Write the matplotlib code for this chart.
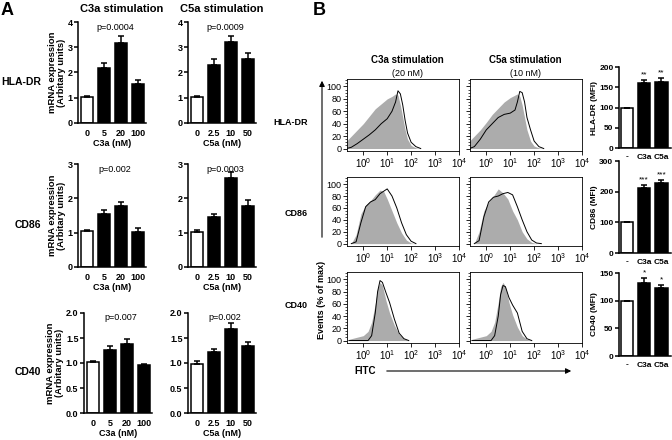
import numpy as np
import matplotlib
matplotlib.use('Agg')
import matplotlib.pyplot as plt
from matplotlib.patches import FancyArrowPatch
from matplotlib.ticker import LogLocator, FormatStrFormatter, MultipleLocator, NullFormatter

plt.rcParams['font.family'] = ['Liberation Sans', 'DejaVu Sans']

# ---- panel A data (mRNA, mean + SEM) ----
c3a_doses = ['0', '5', '20', '100']
c5a_doses = ['0', '2.5', '10', '50']
genes = ['HLA-DR', 'CD86', 'CD40']

c3a_mean = [[1.02, 2.17, 3.16, 1.54],
            [1.04, 1.54, 1.78, 1.02],
            [1.02, 1.26, 1.39, 0.96]]
c3a_err = [[0.03, 0.19, 0.27, 0.15],
           [0.04, 0.11, 0.12, 0.11],
           [0.02, 0.08, 0.10, 0.03]]
c5a_mean = [[1.01, 2.28, 3.19, 2.55],
            [1.03, 1.46, 2.58, 1.79],
            [0.99, 1.22, 1.69, 1.35]]
c5a_err = [[0.05, 0.26, 0.24, 0.23],
           [0.04, 0.07, 0.18, 0.15],
           [0.05, 0.07, 0.11, 0.08]]
c3a_p = ['p=0.0004', 'p=0.002', 'p=0.007']
c5a_p = ['p=0.0009', 'p=0.0003', 'p=0.002']
ymax_a = [4, 3, 2.0]
ystep_a = [1, 1, 0.5]

# ---- panel B histograms (log10 FITC, % of max) ----
hla_c3a_x = [-0.7, -0.5, -0.25, 0.0, 0.25, 0.5, 0.75, 1.0, 1.2, 1.35, 1.45, 1.55, 1.65, 1.75, 1.85, 2.0, 2.2, 2.4]
hla_c3a_gray = [12, 20, 30, 40, 52, 64, 72, 80, 84, 88, 86, 70, 50, 30, 15, 5, 1, 0]
hla_c3a_line = [0, 2, 8, 15, 22, 30, 40, 48, 60, 75, 93, 88, 70, 45, 25, 10, 3, 0]

hla_c5a_x = [-0.7, -0.5, -0.25, 0.0, 0.25, 0.5, 0.75, 1.0, 1.2, 1.3, 1.4, 1.5, 1.6, 1.7, 1.85, 2.0, 2.2, 2.4]
hla_c5a_gray = [12, 20, 30, 42, 55, 65, 75, 82, 86, 88, 84, 70, 50, 30, 12, 4, 1, 0]
hla_c5a_line = [0, 3, 15, 30, 40, 50, 55, 57, 62, 75, 92, 90, 75, 50, 30, 12, 3, 0]

cd86_c3a_x = [-0.5, -0.3, -0.1, 0.1, 0.3, 0.5, 0.7, 0.85, 1.0, 1.2, 1.4, 1.6, 1.8, 2.0, 2.2]
cd86_c3a_gray = [0, 15, 50, 65, 72, 82, 90, 88, 75, 55, 35, 18, 6, 1, 0]
cd86_c3a_line = [0, 3, 35, 62, 70, 74, 84, 88, 92, 80, 60, 35, 15, 4, 0]

cd86_c5a_x = [-0.5, -0.3, -0.1, 0.1, 0.3, 0.5, 0.7, 0.9, 1.1, 1.3, 1.5, 1.7, 1.9, 2.1, 2.3]
cd86_c5a_gray = [0, 20, 55, 70, 80, 92, 85, 75, 55, 40, 20, 8, 2, 0, 0]
cd86_c5a_line = [0, 5, 45, 70, 78, 80, 84, 86, 82, 62, 40, 20, 6, 1, 0]

cd40_c3a_x = [-0.6, -0.3, 0.0, 0.2, 0.35, 0.5, 0.6, 0.7, 0.8, 0.95, 1.1, 1.3, 1.5, 1.7, 1.9]
cd40_c3a_gray = [2, 5, 8, 15, 30, 60, 85, 95, 90, 65, 45, 25, 10, 3, 0]
cd40_c3a_line = [0, 0, 0, 0, 8, 45, 80, 98, 95, 78, 62, 35, 12, 3, 0]

cd40_c5a_x = [-0.6, -0.3, 0.0, 0.2, 0.35, 0.5, 0.6, 0.7, 0.8, 0.95, 1.1, 1.3, 1.5, 1.7, 1.9]
cd40_c5a_gray = [2, 5, 8, 15, 30, 62, 88, 95, 88, 62, 42, 22, 8, 2, 0]
cd40_c5a_line = [0, 0, 0, 0, 8, 40, 75, 90, 88, 70, 58, 45, 15, 3, 0]

hists = [[(hla_c3a_x, hla_c3a_gray, hla_c3a_line), (hla_c5a_x, hla_c5a_gray, hla_c5a_line)],
         [(cd86_c3a_x, cd86_c3a_gray, cd86_c3a_line), (cd86_c5a_x, cd86_c5a_gray, cd86_c5a_line)],
         [(cd40_c3a_x, cd40_c3a_gray, cd40_c3a_line), (cd40_c5a_x, cd40_c5a_gray, cd40_c5a_line)]]

# ---- panel B MFI bars ----
mfi_groups = ['-', 'C3a', 'C5a']
mfi_mean = [[100, 161, 164], [100, 213, 228], [100, 132, 122]]
mfi_err = [[0, 8, 8], [0, 9, 9], [0, 9, 7]]
mfi_stars = [['', '**', '**'], ['', '***', '***'], ['', '*', '*']]
mfi_ymax = [200, 300, 150]
mfi_step = [50, 100, 50]
mfi_labels = ['HLA-DR (MFI)', 'CD86 (MFI)', 'CD40 (MFI)']

W, H = 672, 440
fig = plt.figure(figsize=(W / 100, H / 100), dpi=100)


def add_ax(l, t, r, b):
    return fig.add_axes([l / W, 1 - b / H, (r - l) / W, (b - t) / H])


def ftext(x, y, s, **kw):
    fig.text(x / W, 1 - y / H, s, **kw)


def bar_panel(ax, means, errs, cats, ymax, step, fs=6.5):
    x = np.arange(len(means))
    colors = ['white'] + ['black'] * (len(means) - 1)
    ax.bar(x, means, width=0.72, color=colors, edgecolor='black', linewidth=1.1,
           yerr=[np.zeros(len(errs)), errs], capsize=2.5,
           error_kw=dict(elinewidth=1.1, capthick=1.1, ecolor='black'), zorder=2)
    ax.set_ylim(0, ymax)
    ax.yaxis.set_major_locator(MultipleLocator(step))
    ax.set_xticks(x)
    ax.set_xticklabels(cats, fontsize=fs, fontweight='bold')
    for s in ['top', 'right']:
        ax.spines[s].set_visible(False)
    for s in ['left', 'bottom']:
        ax.spines[s].set_linewidth(1.1)
    ax.tick_params(axis='y', labelsize=fs, width=1.1, length=3, pad=1)
    ax.tick_params(axis='x', width=0, length=2, pad=2)
    for lab in ax.get_yticklabels():
        lab.set_fontweight('bold')


# ================= panel A =================
ftext(1, 2, 'A', fontsize=13, fontweight='bold', va='top')
ftext(122, 9, 'C3a stimulation', fontsize=8, fontweight='bold', ha='center', va='center')
ftext(222, 9, 'C5a stimulation', fontsize=8, fontweight='bold', ha='center', va='center')

rows_y = [(22, 123), (164, 267), (313, 413)]
c3a_left = [78, 78, 84]
ylab_x = [57, 57, 55]
row_lab_y = [82, 225, 372]
row_lab_x = [1, 15, 15]
for i in range(3):
    t, b = rows_y[i]
    for col in range(2):
        if col == 0:
            ax = add_ax(c3a_left[i], t, c3a_left[i] + 68, b)
            bar_panel(ax, c3a_mean[i], c3a_err[i], c3a_doses, ymax_a[i], ystep_a[i])
            ptxt = c3a_p[i]
            xl = 'C3a (nM)'
        else:
            ax = add_ax(188, t, 256, b)
            bar_panel(ax, c5a_mean[i], c5a_err[i], c5a_doses, ymax_a[i], ystep_a[i])
            ptxt = c5a_p[i]
            xl = 'C5a (nM)'
        ax.set_xlim(-0.55, 3.5)
        if i == 2:
            ax.yaxis.set_major_formatter(FormatStrFormatter('%.1f'))
            for lab in ax.get_yticklabels():
                lab.set_fontweight('bold')
        ax.text(1.65, ymax_a[i] * 0.95, ptxt, fontsize=6.5, ha='center', va='center')
        ax.set_xlabel(xl, fontsize=6.5, fontweight='bold', labelpad=1)
    ftext(ylab_x[i], (t + b) / 2, 'mRNA expression\n(Arbitary units)', fontsize=6.8,
          fontweight='bold', rotation=90, ha='center', va='center', linespacing=1.05)
    ftext(row_lab_x[i], row_lab_y[i], genes[i], fontsize=7.5, fontweight='bold', ha='left', va='center')

# ================= panel B =================
ftext(313, 2, 'B', fontsize=13, fontweight='bold', va='top')
ftext(407, 60, 'C3a stimulation', fontsize=7, fontweight='bold', ha='center', va='center')
ftext(407, 73, '(20 nM)', fontsize=6.5, ha='center', va='center')
ftext(525, 60, 'C5a stimulation', fontsize=7, fontweight='bold', ha='center', va='center')
ftext(525, 73, '(10 nM)', fontsize=6.5, ha='center', va='center')

hist_rows = [(79, 151), (177, 246), (272, 343)]
hist_cols = [(347, 459), (470, 582)]
b_lab_y = [122, 214, 305]
for i in range(3):
    t, b = hist_rows[i]
    for j in range(2):
        l, r = hist_cols[j]
        ax = add_ax(l, t, r, b)
        hx, gray, line = hists[i][j]
        xv = 10 ** np.array(hx)
        ax.fill_between(xv, gray, 0, color='#acacac', linewidth=0)
        ax.plot(xv, line, color='black', linewidth=0.7)
        ax.set_xscale('log')
        ax.set_xlim(10 ** -0.68, 10 ** 4)
        ax.set_ylim(-4, 112)
        ax.set_xticks([1, 10, 100, 1000, 10000])
        ax.xaxis.set_minor_locator(LogLocator(base=10, subs=np.arange(2, 10)))
        ax.xaxis.set_minor_formatter(NullFormatter())
        ax.set_yticks([0, 20, 40, 60, 80, 100])
        ax.yaxis.set_minor_locator(MultipleLocator(5))
        ax.tick_params(labelsize=7, width=0.6, length=3, pad=1)
        ax.tick_params(axis='y', labelsize=6.5)
        ax.tick_params(which='minor', width=0.5, length=1.5)
        for s in ax.spines.values():
            s.set_linewidth(0.6)
        if j == 1:
            ax.set_yticklabels([])
    ftext(308, b_lab_y[i], genes[i], fontsize=6.5, fontweight='bold', ha='right', va='center')

# axis arrows
fig.add_artist(FancyArrowPatch((322 / W, 1 - 240 / H), (322 / W, 1 - 78 / H),
                               transform=fig.transFigure, arrowstyle='-|>',
                               mutation_scale=8, linewidth=0.8, color='black'))
ftext(322, 300, 'Events (% of max)', fontsize=6.5, fontweight='bold', rotation=90,
      ha='center', va='center')
fig.add_artist(FancyArrowPatch((384 / W, 1 - 371 / H), (574 / W, 1 - 371 / H),
                               transform=fig.transFigure, arrowstyle='-|>',
                               mutation_scale=8, linewidth=0.8, color='black'))
ftext(354, 371, 'FITC', fontsize=7, fontweight='bold', ha='left', va='center')

# MFI bar charts
mfi_rows = [(67, 148), (161, 253), (273, 356)]
for i in range(3):
    t, b = mfi_rows[i]
    ax = add_ax(619, t, 671, b)
    bar_panel(ax, mfi_mean[i], mfi_err[i], mfi_groups, mfi_ymax[i], mfi_step[i], fs=6)
    ax.set_xlim(-0.45, 2.55)
    for k in range(3):
        if mfi_stars[i][k]:
            ax.text(k, mfi_mean[i][k] + mfi_err[i][k] + mfi_ymax[i] * 0.02, mfi_stars[i][k],
                    fontsize=6, ha='center', va='bottom')
    ftext(595, (t + b) / 2, mfi_labels[i], fontsize=6, fontweight='bold', rotation=90,
          ha='center', va='center')

fig.savefig('out.png', dpi=100)
